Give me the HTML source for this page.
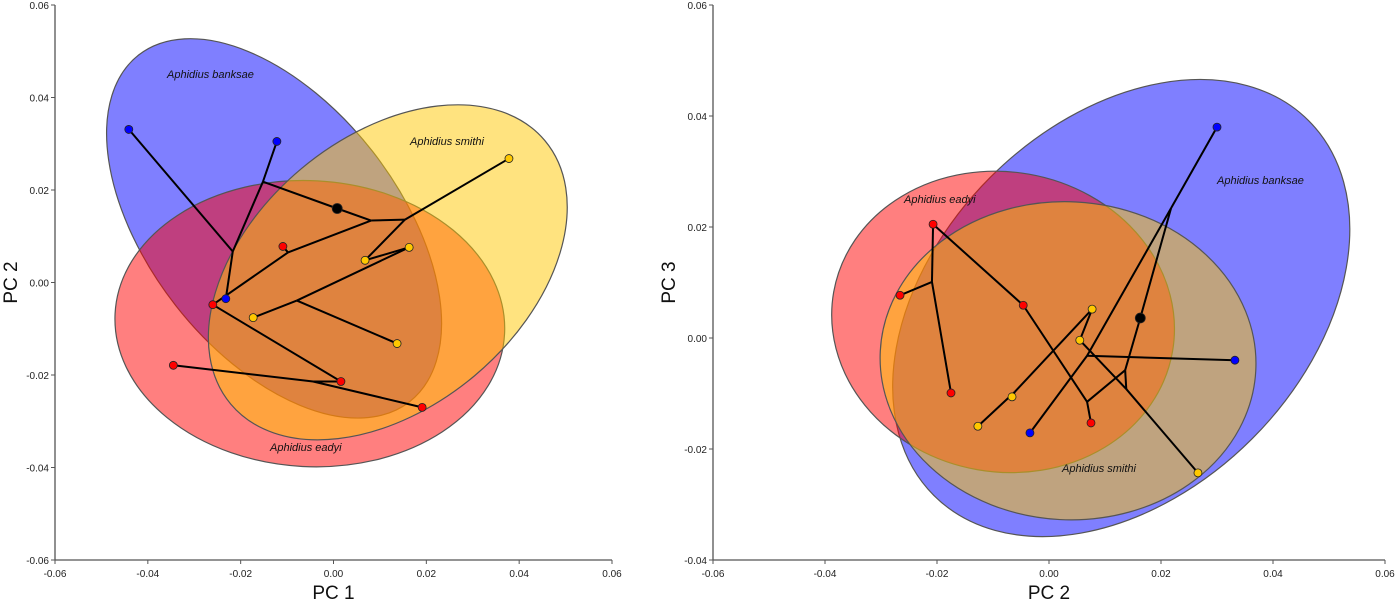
<!DOCTYPE html>
<html><head><meta charset="utf-8"><style>
html,body{margin:0;padding:0;background:#fff;}
svg{display:block;font-family:"Liberation Sans",Arial,sans-serif;}
.tick{font-size:10px;fill:#222;}
.ttl{font-size:19px;fill:#111;}
.sp{font-size:11px;font-style:italic;fill:#111;}
</style></head><body>
<svg id="chart" width="1400" height="603" viewBox="0 0 1400 603"></svg>
<script>
// ---- Left panel data (PC1 vs PC2) ----
const leftX = [-0.0441,-0.0122,-0.0232, 0.0378,0.0163,0.0068,-0.0173,0.0137, -0.0109,-0.0260,-0.0345,0.0016,0.0191, 0.0008, -0.0152,-0.0217,0.0081,0.0154,-0.0079,-0.0098,-0.0044];
const leftY = [0.0331,0.0305,-0.0035, 0.0268,0.0076,0.0048,-0.0076,-0.0132, 0.0078,-0.0048,-0.0179,-0.0214,-0.0270, 0.0160, 0.0218,0.0067,0.0134,0.0136,-0.0039,0.0065,-0.0214];
const leftGroup = ['b','b','b','y','y','y','y','y','r','r','r','r','r','k','n','n','n','n','n','n','n'];
const leftEdges = [[14,1],[14,15],[14,13],[15,0],[15,2],[13,16],[16,17],[17,3],[17,5],[5,4],[4,18],[18,6],[18,7],[16,19],[19,8],[19,9],[9,11],[10,20],[20,11],[20,12]];
const leftEllX = [-0.0128,-0.0051,0.0117];
const leftEllY = [0.0117,-0.0089,0.0022];
// ---- Right panel data (PC2 vs PC3) ----
const rightX = [0.0300,0.0332,-0.0034, -0.0207,-0.0266,-0.0046,-0.0175,0.0075, 0.0077,0.0055,-0.0066,-0.0127,0.0266, 0.0163, 0.0218,0.0068,0.0136,0.0068,-0.0209,-0.0061,0.0138];
const rightY = [0.0380,-0.0040,-0.0171, 0.0205,0.0077,0.0059,-0.0099,-0.0153, 0.0052,-0.0004,-0.0106,-0.0159,-0.0243, 0.0036, 0.0234,-0.0032,-0.0058,-0.0115,0.0101,-0.0097,-0.0092];
const rightGroup = ['b','b','b','r','r','r','r','r','y','y','y','y','y','k','n','n','n','n','n','n','n'];
const rightEdges = [[0,14],[14,13],[14,15],[15,2],[15,1],[13,16],[16,20],[16,17],[17,7],[17,5],[5,3],[3,18],[18,4],[18,6],[9,20],[20,12],[8,9],[8,19],[19,10],[19,11]];
const rightEllX = [0.0129,-0.0082,0.0034];
const rightEllY = [0.0054,0.0029,-0.0041];
const xTicks = [-0.06,-0.04,-0.02,0.00,0.02,0.04,0.06];
const yTicksL = [-0.06,-0.04,-0.02,0.00,0.02,0.04,0.06];
const yTicksR = [-0.04,-0.02,0.00,0.02,0.04,0.06];

const NS='http://www.w3.org/2000/svg';
const svg=document.getElementById('chart');
function mk(tag,attrs,parent){const e=document.createElementNS(NS,tag);for(const k in attrs)e.setAttribute(k,attrs[k]);(parent||svg).appendChild(e);return e;}
const fills={b:'#0000ff',r:'#ff0000',y:'#ffc800',k:'#000'};

function panel(cfg){
  const g=mk('g',{});
  
  
  const sx=v=>cfg.x0+(v-cfg.xmin)/(cfg.xmax-cfg.xmin)*(cfg.x1-cfg.x0);
  const sy=v=>cfg.y0-(v-cfg.ymin)/(cfg.ymax-cfg.ymin)*(cfg.y0-cfg.y1);
  const order=['b','r','y'];
  cfg.ell.forEach((el,i)=>{
    const e=mk('ellipse',{cx:0,cy:0,rx:el.rx,ry:el.ry,fill:fills[order[i]],'fill-opacity':0.5,stroke:'#555','stroke-width':1.2,
      transform:`translate(${sx(cfg.ellX[i])},${sy(cfg.ellY[i])}) rotate(${el.rot})`},g);
    
    
  });
  cfg.edges.forEach(([a,b])=>{
    const l=mk('line',{x1:sx(cfg.X[a]),y1:sy(cfg.Y[a]),x2:sx(cfg.X[b]),y2:sy(cfg.Y[b]),stroke:'#000','stroke-width':2},g);
    
    
  });
  cfg.X.forEach((v,i)=>{
    const gr=cfg.G[i]; if(gr==='n')return;
    const c=mk('circle',{cx:sx(v),cy:sy(cfg.Y[i]),r:gr==='k'?5:4,fill:fills[gr],stroke:'#222','stroke-width':0.8},g);
    
    
  });
  const ax=mk('path',{d:`M${cfg.x0},${cfg.y1} V${cfg.y0} H${cfg.x1}`,stroke:'#555','stroke-width':1.3,fill:'none'},g);
  
  
  xTicks.forEach(t=>{
    mk('line',{x1:sx(t),x2:sx(t),y1:cfg.y0,y2:cfg.y0+4,stroke:'#555'},g);
    const tx=mk('text',{x:sx(t),y:cfg.y0+17,'text-anchor':'middle',class:'tick'},g);
    tx.textContent=t.toFixed(2);
    
    
  });
  cfg.yTicks.forEach(t=>{
    mk('line',{x1:cfg.x0-4,x2:cfg.x0,y1:sy(t),y2:sy(t),stroke:'#555'},g);
    const tx=mk('text',{x:cfg.x0-6,y:sy(t)+4,'text-anchor':'end',class:'tick'},g);
    tx.textContent=t.toFixed(2);
    
    
  });
  const xt=mk('text',{x:(cfg.x0+cfg.x1)/2,y:599,'text-anchor':'middle',class:'ttl'},g);
  xt.textContent=cfg.xTitle;
  
  
  const yx=cfg.x0-38, ym=(cfg.y0+cfg.y1)/2;
  const yt=mk('text',{x:yx,y:ym,'text-anchor':'middle',class:'ttl',transform:`rotate(-90 ${yx} ${ym})`},g);
  yt.textContent=cfg.yTitle;
  
  
  cfg.labels.forEach(l=>{
    const t=mk('text',{x:l[1],y:l[2],class:'sp'},g);
    t.textContent=l[0];
    
    
  });
}

panel({name:'pc1-pc2-panel',x0:55,x1:612,y0:560,y1:5,xmin:-0.06,xmax:0.06,ymin:-0.06,ymax:0.06,
  X:leftX,Y:leftY,G:leftGroup,edges:leftEdges,ellX:leftEllX,ellY:leftEllY,yTicks:yTicksL,
  ell:[{rx:220,ry:125,rot:52,label:'banksae'},{rx:195,ry:143,rot:3,label:'eadyi'},{rx:205,ry:135,rot:-40,label:'smithi'}],
  xTitle:'PC 1',yTitle:'PC 2',
  labels:[['Aphidius banksae',167,78],['Aphidius smithi',410,145],['Aphidius eadyi',270,451]]});
panel({name:'pc2-pc3-panel',x0:713,x1:1385,y0:560,y1:5,xmin:-0.06,xmax:0.06,ymin:-0.04,ymax:0.06,
  X:rightX,Y:rightY,G:rightGroup,edges:rightEdges,ellX:rightEllX,ellY:rightEllY,yTicks:yTicksR,
  ell:[{rx:265,ry:185,rot:-45,label:'banksae'},{rx:172,ry:150,rot:10,label:'eadyi'},{rx:188,ry:159,rot:3,label:'smithi'}],
  xTitle:'PC 2',yTitle:'PC 3',
  labels:[['Aphidius eadyi',904,203],['Aphidius banksae',1217,184],['Aphidius smithi',1062,472]]});
</script>
</body></html>
